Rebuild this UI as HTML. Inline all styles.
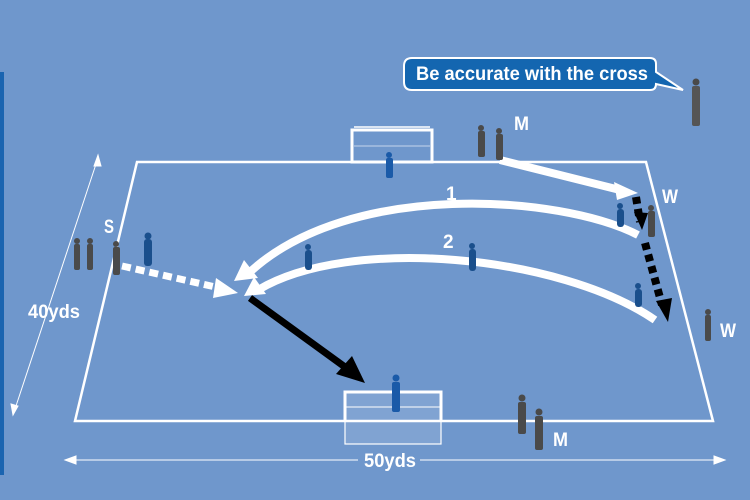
<!DOCTYPE html>
<html><head><style>html,body{margin:0;padding:0;background:#6f97cc;}svg{display:block}</style></head><body>
<svg width="750" height="500" viewBox="0 0 750 500" xmlns="http://www.w3.org/2000/svg" font-family="Liberation Sans, sans-serif">
<rect width="750" height="500" fill="#6f97cc"/>
<rect x="0" y="72" width="4" height="403" fill="#1a64b0"/>
<polygon points="137,162 646,162 713,421 75,421" fill="none" stroke="#fff" stroke-width="2.5"/>
<g stroke="#fff" fill="none"><rect x="352" y="130" width="80" height="32" stroke-width="3"/><line x1="354" y1="127" x2="430" y2="127" stroke-width="1.5"/><line x1="354" y1="146" x2="430" y2="146" stroke-width="1" opacity=".6"/></g>
<g stroke="#fff" fill="none"><rect x="345" y="392" width="96" height="52" fill="#fff" fill-opacity=".12" stroke-width="1.2"/><path d="M345,421 V392 H441 V421" stroke-width="3"/><line x1="345" y1="407" x2="441" y2="407" stroke-width="1"/></g>
<g stroke="#fff" stroke-width="1" fill="#fff">
<line x1="98" y1="158" x2="14" y2="412"/><polygon points="98,155 94,166 101,166"/><polygon points="13,415 11,404 18,406"/>
<line x1="68" y1="460" x2="358" y2="460"/><line x1="420" y1="460" x2="722" y2="460"/><polygon points="65,460 76,456 76,464"/><polygon points="725,460 714,456 714,464"/>
</g>
<g fill="#fff" font-weight="bold" font-size="19">
<text x="28" y="318" textLength="52" lengthAdjust="spacingAndGlyphs">40yds</text><text x="364" y="467" textLength="52" lengthAdjust="spacingAndGlyphs">50yds</text>
<text x="104" y="233" textLength="10" lengthAdjust="spacingAndGlyphs">S</text><text x="514" y="130" textLength="15" lengthAdjust="spacingAndGlyphs">M</text><text x="662" y="203" textLength="16" lengthAdjust="spacingAndGlyphs">W</text><text x="720" y="337" textLength="16" lengthAdjust="spacingAndGlyphs">W</text><text x="553" y="446" textLength="15" lengthAdjust="spacingAndGlyphs">M</text>
<text x="446" y="200">1</text><text x="443" y="248">2</text>
</g>
<path d="M412,58 H650 Q656,58 656,64 V72 L683,90 L656,84 V84 Q656,90 650,90 H412 Q404,90 404,82 V66 Q404,58 412,58 Z" fill="#1466b0" stroke="#fff" stroke-width="2"/>
<text x="416" y="80" fill="#fff" font-weight="bold" font-size="19" textLength="232" lengthAdjust="spacingAndGlyphs">Be accurate with the cross</text>
<g fill="none" stroke="#fff" stroke-width="8">
<path d="M638,235 C560,195 350,180 250,272"/>
<path d="M655,320 C560,255 350,235 258,290"/>
<path d="M500,160 L620,190"/>
</g>
<g fill="#fff"><polygon points="234,281 244,260 258,278"/><polygon points="244,296 254,277 266,294"/><polygon points="638,193 614,182 617,200"/></g>
<line x1="122" y1="266" x2="220" y2="288" stroke="#fff" stroke-width="7" stroke-dasharray="9,5"/>
<polygon points="238,293 216,278 213,298" fill="#fff"/>
<line x1="636" y1="197" x2="640" y2="222" stroke="#000" stroke-width="8" stroke-dasharray="7,5"/>
<polygon points="642,230 634,212 648,213" fill="#000"/>
<line x1="645" y1="243" x2="662" y2="305" stroke="#000" stroke-width="8" stroke-dasharray="7,5"/>
<polygon points="668,322 656,301 672,298" fill="#000"/>
<line x1="250" y1="298" x2="345" y2="367" stroke="#000" stroke-width="7"/>
<polygon points="365,383 336,374 352,356" fill="#000"/>
<g fill="#1a4f8c">
<circle cx="148" cy="236" r="3.5"/><rect x="144" y="239" width="8" height="27" rx="3"/>
<circle cx="308" cy="247" r="3"/><rect x="305" y="250" width="7" height="20" rx="3"/>
<circle cx="472" cy="246" r="3"/><rect x="469" y="249" width="7" height="22" rx="3"/>
<circle cx="620" cy="206" r="3"/><rect x="617" y="209" width="7" height="18" rx="3"/>
<circle cx="638" cy="286" r="3"/><rect x="635" y="289" width="7" height="18" rx="3"/>
</g>
<g fill="#4a4a4a">
<circle cx="77" cy="241" r="3"/><rect x="74" y="244" width="6" height="26" rx="2"/>
<circle cx="90" cy="241" r="3"/><rect x="87" y="244" width="6" height="26" rx="2"/>
<circle cx="116" cy="244" r="3"/><rect x="113" y="247" width="7" height="28" rx="2"/>
<circle cx="481" cy="128" r="3"/><rect x="478" y="131" width="7" height="26" rx="2"/>
<circle cx="499" cy="131" r="3"/><rect x="496" y="134" width="7" height="26" rx="2"/>
<circle cx="696" cy="82" r="3.5"/><rect x="692" y="86" width="8" height="40" rx="2" fill="#555"/>
<circle cx="651" cy="208" r="3"/><rect x="648" y="211" width="7" height="26" rx="2"/>
<circle cx="708" cy="312" r="3"/><rect x="705" y="315" width="6" height="26" rx="2"/>
<circle cx="522" cy="398" r="3.5"/><rect x="518" y="402" width="8" height="32" rx="2"/>
<circle cx="539" cy="412" r="3.5"/><rect x="535" y="416" width="8" height="34" rx="2"/>
</g>
<g fill="#1a5aa8"><circle cx="389" cy="155" r="3"/><rect x="386" y="158" width="7" height="20" rx="2"/><circle cx="396" cy="378" r="3.5"/><rect x="392" y="382" width="8" height="30" rx="2"/></g>
</svg>
</body></html>
